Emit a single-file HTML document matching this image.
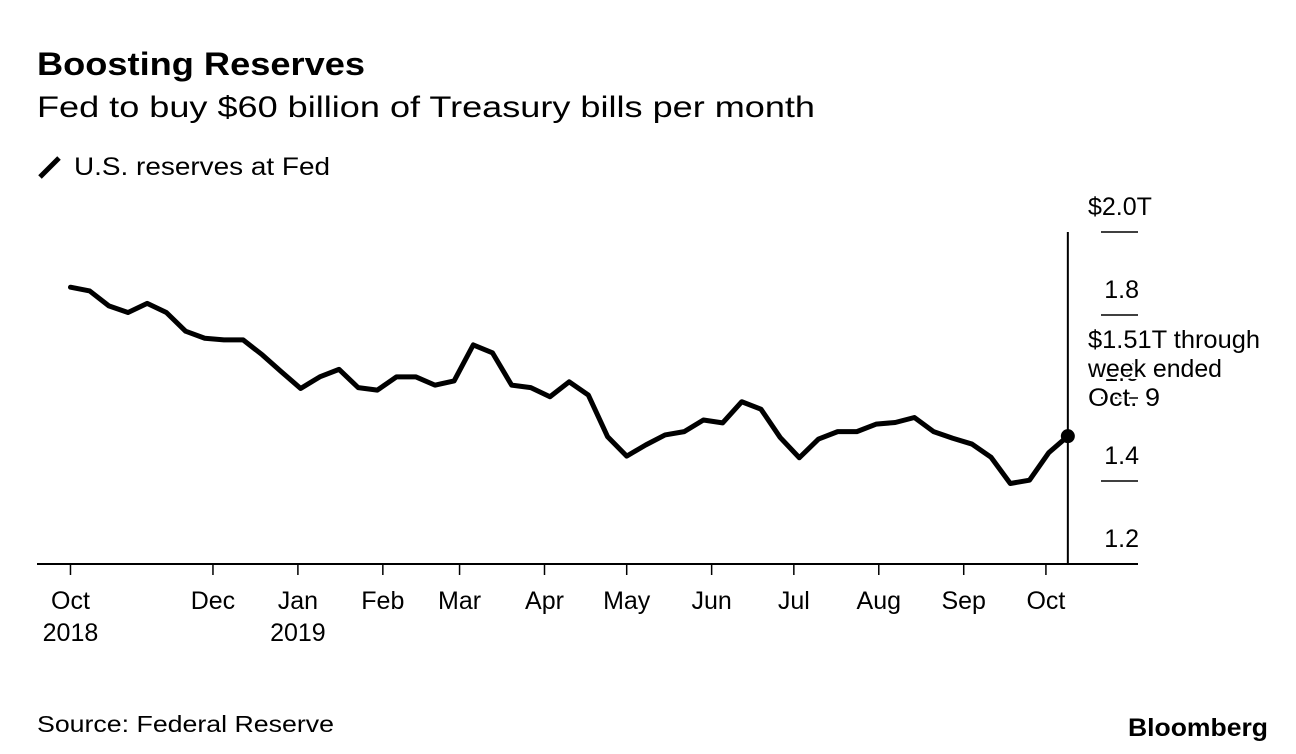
<!DOCTYPE html>
<html><head><meta charset="utf-8"><style>
body{margin:0;background:#fff;width:1296px;height:754px;overflow:hidden;font-family:"Liberation Sans",sans-serif;}
svg{position:absolute;left:0;top:0}
text{font-family:"Liberation Sans",sans-serif;fill:#000}
</style></head><body>
<svg id="chart" width="1296" height="754">
<text x="37" y="75" font-size="32" font-weight="bold" textLength="328" lengthAdjust="spacingAndGlyphs">Boosting Reserves</text>
<text x="37" y="117" font-size="30" textLength="778" lengthAdjust="spacingAndGlyphs">Fed to buy $60 billion of Treasury bills per month</text>
<g>
<line x1="40" y1="177" x2="59" y2="158" stroke="#000" stroke-width="5"/>
<text x="74" y="175" font-size="25" textLength="256" lengthAdjust="spacingAndGlyphs">U.S. reserves at Fed</text>
</g>
<g id="axes"></g>
<g id="series"></g>
<text x="37" y="732" font-size="23" textLength="297" lengthAdjust="spacingAndGlyphs">Source: Federal Reserve</text>
<text x="1128" y="736" font-size="25" font-weight="bold" textLength="140" lengthAdjust="spacingAndGlyphs">Bloomberg</text>
</svg>
<script>
const startDate = "2018-10-10";
const values = [1.867,1.858,1.822,1.806,1.828,1.806,1.761,1.744,1.740,1.740,1.704,1.663,1.623,1.651,1.669,1.625,1.619,1.651,1.651,1.631,1.641,1.728,1.709,1.631,1.625,1.603,1.639,1.607,1.507,1.460,1.487,1.511,1.519,1.547,1.540,1.591,1.573,1.505,1.456,1.501,1.519,1.519,1.537,1.541,1.553,1.519,1.503,1.489,1.457,1.394,1.402,1.468,1.508];
const yTicks = [1.2,1.4,1.6,1.8,2.0];
const yTickLabels = ["1.2","1.4","1.6","1.8","$2.0T"];
const xTickDates = ["2018-10-10","2018-12-01","2019-01-01","2019-02-01","2019-03-01","2019-04-01","2019-05-01","2019-06-01","2019-07-01","2019-08-01","2019-09-01","2019-10-01"];
const xTickLabels = ["Oct","Dec","Jan","Feb","Mar","Apr","May","Jun","Jul","Aug","Sep","Oct"];
const xTickYears = ["2018","","2019","","","","","","","","",""];
const annotation = ["$1.51T through","week ended","Oct. 9"];
const annotationWidths = [172,134,72];

const NS="http://www.w3.org/2000/svg";
const DAY=86400000;
const t0=Date.parse("2019-01-01");
function x(dateStr){return 297.9+(Date.parse(dateStr)-t0)/DAY*2.74;}
function xMs(ms){return 297.9+(ms-t0)/DAY*2.74;}
function y(v){return 564-(v-1.2)*415;}
function mk(tag,attrs,parent){const e=document.createElementNS(NS,tag);for(const k in attrs)e.setAttribute(k,attrs[k]);parent.appendChild(e);return e;}
const axes=document.getElementById('axes'), series=document.getElementById('series');

const base=mk('line',{x1:37,x2:1138,y1:564,y2:564,stroke:'#000','stroke-width':2},axes);


xTickDates.forEach((d,i)=>{
  const xx=x(d);
  const t=mk('line',{x1:xx,x2:xx,y1:564,y2:575,stroke:'#000','stroke-width':1.5},axes);
  
  
  const l=mk('text',{x:xx,y:609,'font-size':25,'text-anchor':'middle'},axes);
  l.textContent=xTickLabels[i];
  
  
  if(xTickYears[i]){
    const yl=mk('text',{x:xx,y:641,'font-size':25,'text-anchor':'middle'},axes);
    yl.textContent=xTickYears[i];
    
    
  }
});
yTicks.forEach((v,i)=>{
  const yy=y(v);
  if(v>1.2){
    const t=mk('line',{x1:1101,x2:1138,y1:yy,y2:yy,stroke:'#000','stroke-width':1.5},axes);
    
    
  }
  const isLast=i===yTicks.length-1;
  const l=mk('text',{x:isLast?1088:1139,y:yy-17,'font-size':25,'text-anchor':isLast?'start':'end'},axes);
  l.textContent=yTickLabels[i];
  
  
});
const start=Date.parse(startDate);
const pts=values.map((v,i)=>[xMs(start+i*7*DAY),y(v)]);
const vl=mk('line',{x1:pts[pts.length-1][0],x2:pts[pts.length-1][0],y1:y(2.0),y2:564,stroke:'#000','stroke-width':2},axes);


const path=mk('polyline',{points:pts.map(p=>p.join(',')).join(' '),fill:'none',stroke:'#000','stroke-width':5,'stroke-linejoin':'round','stroke-linecap':'round'},series);


const last=pts[pts.length-1];
const dot=mk('circle',{cx:last[0],cy:last[1],r:7,fill:'#000'},series);


annotation.forEach((s,i)=>{
  const a=mk('text',{x:1088,y:348+i*29,'font-size':25,stroke:'#fff','stroke-width':4,'paint-order':'stroke',textLength:annotationWidths[i],lengthAdjust:'spacingAndGlyphs'},series);
  a.textContent=s;
  
  
});
</script>
</body></html>
